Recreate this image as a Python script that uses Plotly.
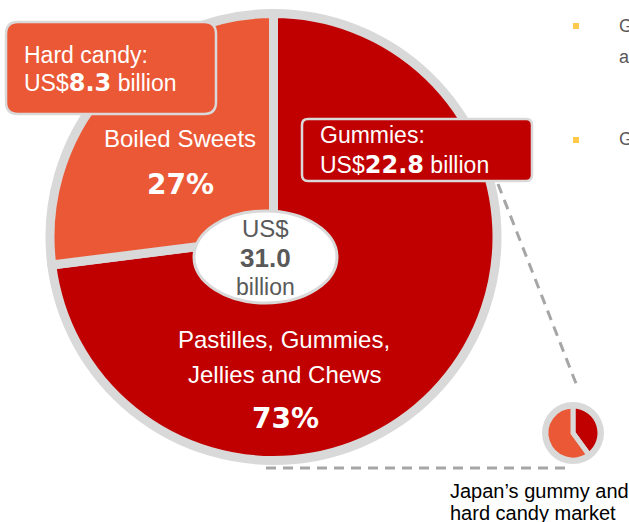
import plotly.graph_objects as go

# ---- data -------------------------------------------------------------
segments = ["Pastilles, Gummies,", "Boiled Sweets"]
segment_sub = ["Jellies and Chews", ""]
segment_share = [73, 27]                     # % of total market
market_names = ["Hard candy", "Gummies"]
market_value = [8.3, 22.8]                   # US$ billion
market_total = 31.0                          # US$ billion
inset_labels = ["Gummies", "Hard candy"]
inset_share = [40, 60]
caption = ["Japan\u2019s gummy and", "hard candy market"]
bullets = ["Gummies", "approximately", "Gummies"]

# ---- styling ----------------------------------------------------------
W, H = 629, 522
RED = "#C00000"
ORANGE = "#EA5836"
GRAY = "#D9D9D9"
DASH_GRAY = "#A6A6A6"
TEXT_GRAY = "#595959"
BULLET = "#FFC94D"
FONT = "Liberation Sans, Arial, sans-serif"
WIDE_BOLD = "DejaVu Sans, Verdana, sans-serif"


def px(x):
    return x / W


def py(y):
    return 1 - y / H


def rounded_rect(x0, y0, x1, y1, r):
    """SVG path of a rounded rectangle given in pixel coordinates."""
    pts = [
        f"M {px(x0 + r)} {py(y0)}",
        f"L {px(x1 - r)} {py(y0)}",
        f"Q {px(x1)} {py(y0)} {px(x1)} {py(y0 + r)}",
        f"L {px(x1)} {py(y1 - r)}",
        f"Q {px(x1)} {py(y1)} {px(x1 - r)} {py(y1)}",
        f"L {px(x0 + r)} {py(y1)}",
        f"Q {px(x0)} {py(y1)} {px(x0)} {py(y1 - r)}",
        f"L {px(x0)} {py(y0 + r)}",
        f"Q {px(x0)} {py(y0)} {px(x0 + r)} {py(y0)}",
        "Z",
    ]
    return " ".join(pts)


def pie_domain(cx, cy, r):
    return dict(x=[px(cx - r), px(cx + r)], y=[py(cy + r), py(cy - r)])


fig = go.Figure()

# main pie: slices run clockwise from 12 o'clock
fig.add_trace(go.Pie(
    labels=[f"{a} {b}".strip() for a, b in zip(segments, segment_sub)],
    values=segment_share, sort=False,
    direction="clockwise", rotation=0,
    marker=dict(colors=[RED, ORANGE], line=dict(color=GRAY, width=9)),
    textinfo="none", hoverinfo="label+percent", showlegend=False,
    domain=pie_domain(273.5, 237, 223.5),
))

# small inset pie
fig.add_trace(go.Pie(
    labels=inset_labels, values=inset_share, sort=False,
    direction="clockwise", rotation=0,
    marker=dict(colors=[RED, ORANGE], line=dict(color=GRAY, width=5)),
    textinfo="none", hoverinfo="label+percent", showlegend=False,
    domain=pie_domain(573, 433, 27),
))

shapes = []
# gray ring behind the inset pie
shapes.append(dict(type="circle", xref="paper", yref="paper", layer="below",
                   x0=px(573 - 31), x1=px(573 + 31), y0=py(433 + 31), y1=py(433 - 31),
                   fillcolor=GRAY, line=dict(width=0)))
# centre ellipse
shapes.append(dict(type="circle", xref="paper", yref="paper", layer="above",
                   x0=px(194), x1=px(337), y0=py(303), y1=py(211),
                   fillcolor="white", line=dict(color=GRAY, width=3)))
# callout boxes
shapes.append(dict(type="path", xref="paper", yref="paper", layer="above",
                   path=rounded_rect(6, 22, 216, 114, 12),
                   fillcolor=ORANGE, line=dict(color=GRAY, width=2.5)))
shapes.append(dict(type="path", xref="paper", yref="paper", layer="above",
                   path=rounded_rect(302, 119, 532, 181, 6),
                   fillcolor=RED, line=dict(color=GRAY, width=2.5)))
# dashed leader lines to the inset
shapes.append(dict(type="line", xref="paper", yref="paper", layer="above",
                   x0=px(498), y0=py(184), x1=px(577), y1=py(386),
                   line=dict(color=DASH_GRAY, width=3, dash="10px,7px")))
shapes.append(dict(type="line", xref="paper", yref="paper", layer="above",
                   x0=px(266), y0=py(468), x1=px(568), y1=py(468),
                   line=dict(color=DASH_GRAY, width=3, dash="10px,7px")))
# bullet squares
for yb in (23, 137):
    shapes.append(dict(type="rect", xref="paper", yref="paper", layer="above",
                       x0=px(573), x1=px(579), y0=py(yb + 6), y1=py(yb),
                       fillcolor=BULLET, line=dict(width=0)))

ann = []


def text(x, y, s, size, color="white", xanchor="center", bold=False, family=FONT):
    if bold:
        s = f"<b>{s}</b>"
    ann.append(dict(x=px(x), y=py(y), xref="paper", yref="paper", text=s,
                    showarrow=False, xanchor=xanchor, yanchor="middle",
                    font=dict(family=family, size=size, color=color)))


def money(v):
    return (f"US$<b><span style='font-family:{WIDE_BOLD};font-size:24px'>"
            f"{v:.1f}</span></b> billion")


# callout texts
text(22, 55, f"{market_names[0]}:", 23, xanchor="left")
text(22, 83, money(market_value[0]), 23, xanchor="left")
text(318, 135, f"{market_names[1]}:", 23, xanchor="left")
text(318, 165, money(market_value[1]), 23, xanchor="left")

# slice labels
text(180, 138, segments[1], 24)
text(180, 184, f"{segment_share[1]}%", 28, bold=True, family=WIDE_BOLD)
text(284, 340, segments[0], 24)
text(284, 374, segment_sub[0], 24)
text(285, 418, f"{segment_share[0]}%", 28, bold=True, family=WIDE_BOLD)

# centre total
text(265, 228, "US$", 24, color=TEXT_GRAY)
text(265, 258, f"{market_total:.1f}", 26, color=TEXT_GRAY, bold=True)
text(265, 287, "billion", 23, color=TEXT_GRAY)

# inset caption
text(448, 491, caption[0], 20, color="black", xanchor="left")
text(448, 513, caption[1], 20, color="black", xanchor="left")

# bullet text running past the right edge
text(617, 26, bullets[0], 18, color=TEXT_GRAY, xanchor="left")
text(617, 57, bullets[1], 18, color=TEXT_GRAY, xanchor="left")
text(617, 139, bullets[2], 18, color=TEXT_GRAY, xanchor="left")

fig.update_layout(
    width=W, height=H, autosize=False,
    margin=dict(l=0, r=0, t=0, b=0, pad=0),
    paper_bgcolor="white", plot_bgcolor="white",
    shapes=shapes, annotations=ann,
)

fig.write_html("out.html")
